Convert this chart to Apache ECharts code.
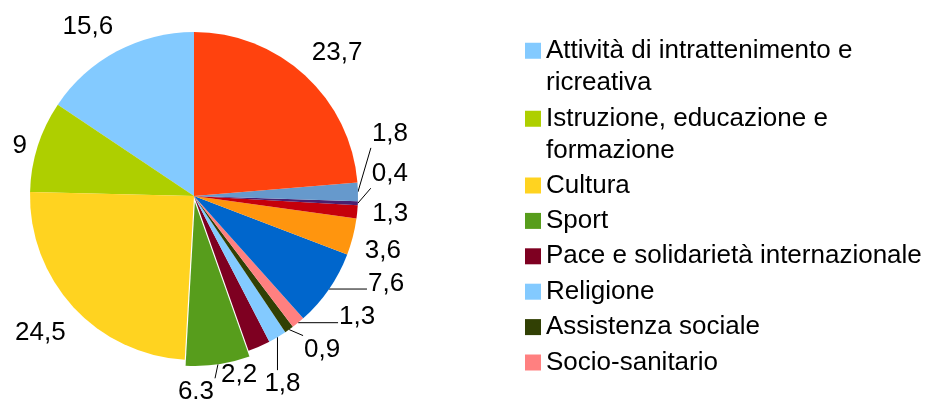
<!DOCTYPE html>
<html><head><meta charset="utf-8">
<script src="https://cdn.jsdelivr.net/npm/echarts@6/dist/echarts.min.js"></script>
<style>html,body{margin:0;padding:0;background:#fff}#c{width:925px;height:402px}</style>
</head><body><div id="c"></div>
<script>
// ---- data ----
const categories = [
  'Attività di intrattenimento e ricreativa',
  'Istruzione, educazione e formazione',
  'Cultura',
  'Sport',
  'Pace e solidarietà internazionale',
  'Religione',
  'Assistenza sociale',
  'Socio-sanitario',
  'Ambiente',
  'Protezione civile',
  'Tutela dei diritti',
  'Promozione del volontariato',
  'Sviluppo economico',
  'Altro'
];
const values = [15.6, 9, 24.5, 6.3, 2.2, 1.8, 0.9, 1.3, 7.6, 3.6, 1.3, 0.4, 1.8, 23.7];
const valueLabels = ['15,6', '9', '24,5', '6.3', '2,2', '1,8', '0,9', '1,3', '7,6', '3,6', '1,3', '0,4', '1,8', '23,7'];
const legendWrapped = categories.slice(0, 2);
const legendSingle = categories.slice(2, 8);

// ---- styles / layout ----
const colors = ['#83caff', '#aecf00', '#ffd320', '#579d1c', '#7e0021', '#83caff', '#314004', '#ff8080',
                '#0066cc', '#ff950e', '#c5000b', '#4b1f6f', '#6699cc', '#ff420e'];
const explodedIndex = 3;
const explodeOffset = 6;
const pieCenter = [194, 196];
const pieRadius = 164;
const labelOffsets = [[-29,-24],[-18,0],[-33,26],[-22,28],[-20,28],[5,47],[33,20],[59,-6],[57,-5],[30,14],[33,2],[32,-29],[32,-58],[32,-23]];
const leaderLines = [false,false,false,true,false,true,true,true,true,false,false,true,true,false];
const FONT = 'Liberation Sans';
const CLEAR = 'rgba(0,0,0,0)';

const chart = echarts.init(document.getElementById('c'), null, {renderer: 'canvas'});

// direction of the exploded slice (counter-clockwise from 12 o'clock)
const total = values.reduce((a, b) => a + b, 0);
const before = values.slice(0, explodedIndex).reduce((a, b) => a + b, 0);
const midFrac = (before + values[explodedIndex] / 2) / total;
const theta = midFrac * 2 * Math.PI;
const explodedCenter = [pieCenter[0] - explodeOffset * Math.sin(theta), pieCenter[1] - explodeOffset * Math.cos(theta)];

function makeData(showFn) {
  return categories.map((name, i) => {
    const on = showFn(i);
    return {
      name: name,
      value: values[i],
      itemStyle: {color: on ? colors[i] : CLEAR},
      label: {show: on, formatter: valueLabels[i]},
      labelLine: {show: on && leaderLines[i]}
    };
  });
}

function layoutLabel(p) {
  const i = p.dataIndex;
  const data = chart.getModel().getSeriesByIndex(p.seriesIndex).getData();
  const lay = data.getItemLayout(i);
  const mid = (lay.startAngle + lay.endAngle) / 2;
  const ex = lay.cx + lay.r * Math.cos(mid), ey = lay.cy + lay.r * Math.sin(mid);
  const lx = ex + labelOffsets[i][0], ly = ey + labelOffsets[i][1];
  const hw = p.labelRect.width / 2 + 1, hh = 14;
  const nx = Math.max(lx - hw, Math.min(ex, lx + hw));
  const ny = Math.max(ly - hh, Math.min(ey, ly + hh));
  return {x: lx, y: ly, align: 'center', verticalAlign: 'middle', labelLinePoints: [[ex, ey], [nx, ny]]};
}

const legendText = {fontSize: 26, fontFamily: FONT, color: '#000'};
const baseSeries = {
  type: 'pie',
  radius: pieRadius,
  startAngle: 90,
  clockwise: false,
  avoidLabelOverlap: false,
  itemStyle: {borderWidth: 0},
  emphasis: {disabled: true},
  label: {position: 'outside', fontSize: 26, fontFamily: FONT, color: '#000'},
  labelLine: {length: 10, length2: 10, lineStyle: {color: '#000', width: 1}},
  labelLayout: layoutLabel
};

chart.setOption({
  animation: false,
  backgroundColor: '#fff',
  textStyle: {fontFamily: FONT},
  legend: [
    {
      data: legendWrapped.map((n, k) => ({name: n, icon: 'path://M0,0H16V16H0Z M0,47.69H0.01V47.7H0Z',
                                          itemStyle: {color: colors[k]}})),
      orient: 'vertical', left: 525, top: 35, padding: 0,
      itemWidth: 16, itemHeight: 47.7, itemGap: 4.6, selectedMode: false,
      textStyle: Object.assign({lineHeight: 31.7, width: 385, overflow: 'break'}, legendText)
    },
    {
      data: legendSingle.map((n, k) => ({name: n, icon: 'rect', itemStyle: {color: colors[k + 2]}})),
      orient: 'vertical', left: 525, top: 172.5, padding: 0,
      itemWidth: 16, itemHeight: 16, itemGap: 9.4, selectedMode: false,
      textStyle: Object.assign({lineHeight: 26}, legendText)
    }
  ],
  series: [
    Object.assign({}, baseSeries, {center: pieCenter, data: makeData(i => i !== explodedIndex)}),
    Object.assign({}, baseSeries, {center: explodedCenter, data: makeData(i => i === explodedIndex)})
  ]
});
</script>
</body></html>
